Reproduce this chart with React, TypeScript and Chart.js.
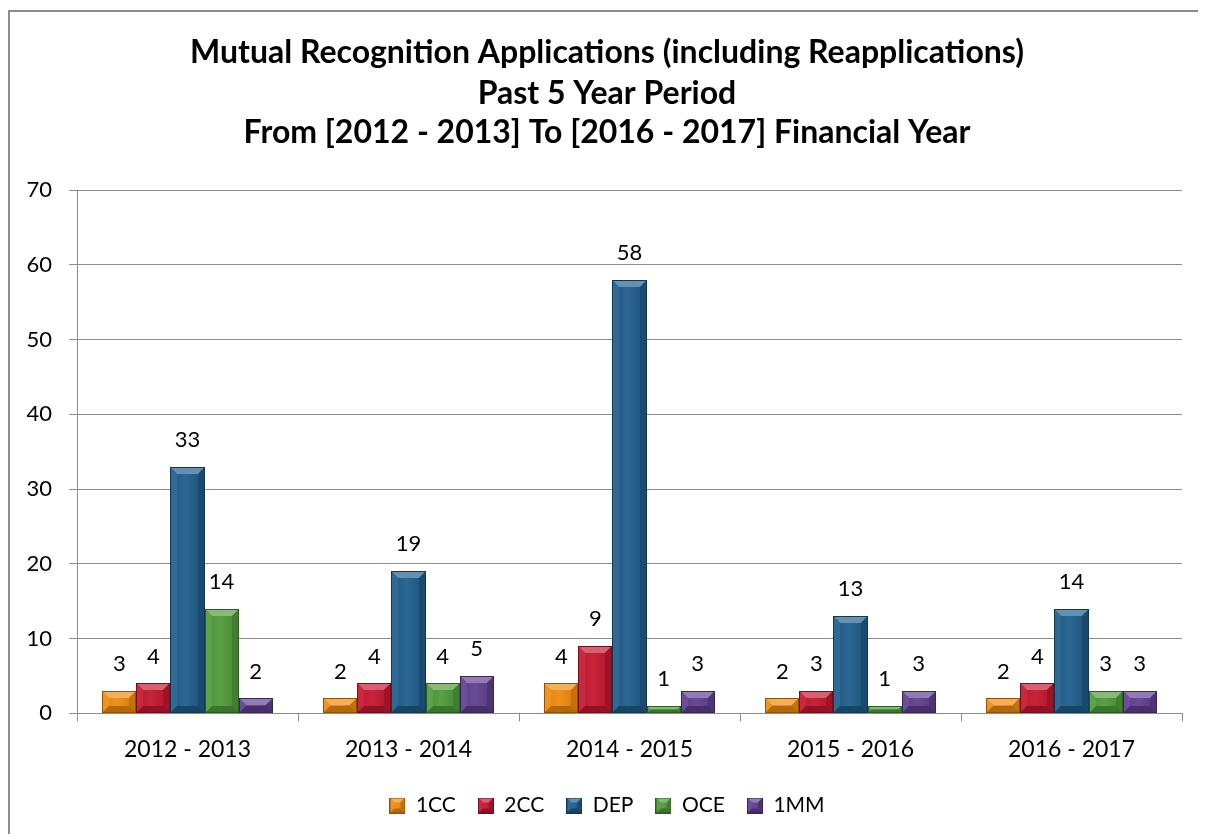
import React, { useEffect, useRef } from "react";
import { Chart, registerables } from "chart.js";

Chart.register(...registerables);

const categories = ["2012 - 2013", "2013 - 2014", "2014 - 2015", "2015 - 2016", "2016 - 2017"];
const seriesNames = ["1CC", "2CC", "DEP", "OCE", "1MM"];
const values1CC = [3, 2, 4, 2, 2];
const values2CC = [4, 4, 9, 3, 4];
const valuesDEP = [33, 19, 58, 13, 14];
const valuesOCE = [14, 4, 1, 1, 3];
const values1MM = [2, 5, 3, 3, 3];
const seriesColors = ["#EE8A0E", "#C2172F", "#1E5C8A", "#4E9A3A", "#5E3F8E"];
const yMin = 0;
const yMax = 70;
const yStep = 10;
const titleLines = [
  "Mutual Recognition Applications (including Reapplications)",
  "Past 5 Year Period",
  "From [2012 - 2013] To [2016 - 2017] Financial Year",
];

const FONT = "Lato, 'Open Sans', sans-serif";

function shade(hex: string, amt: number): string {
  const n = parseInt(hex.slice(1), 16);
  let r = (n >> 16) & 255, g = (n >> 8) & 255, b = n & 255;
  const t = amt > 0 ? 255 : 0;
  const p = Math.abs(amt);
  r = Math.round(r + (t - r) * p);
  g = Math.round(g + (t - g) * p);
  b = Math.round(b + (t - b) * p);
  return `rgb(${r},${g},${b})`;
}

function poly(ctx: CanvasRenderingContext2D, pts: number[][], fill: string) {
  ctx.beginPath();
  ctx.moveTo(pts[0][0], pts[0][1]);
  for (let i = 1; i < pts.length; i++) ctx.lineTo(pts[i][0], pts[i][1]);
  ctx.closePath();
  ctx.fillStyle = fill;
  ctx.fill();
}

function drawBevel(ctx: CanvasRenderingContext2D, l: number, t: number, r: number, b: number, color: string, bv: number) {
  const w = r - l, h = b - t;
  if (w <= 0 || h <= 0) return;
  const e = Math.min(bv, w / 2, h / 2);
  ctx.save();
  const g = ctx.createLinearGradient(l, 0, r, 0);
  g.addColorStop(0, shade(color, -0.05));
  g.addColorStop(0.45, shade(color, 0.06));
  g.addColorStop(1, shade(color, -0.12));
  ctx.fillStyle = g;
  ctx.fillRect(l, t, w, h);
  poly(ctx, [[l, t], [r, t], [r - e, t + e], [l + e, t + e]], shade(color, 0.32));
  poly(ctx, [[l, t], [l + e, t + e], [l + e, b - e], [l, b]], shade(color, 0.08));
  poly(ctx, [[r, t], [r, b], [r - e, b - e], [r - e, t + e]], shade(color, -0.18));
  poly(ctx, [[l, b], [l + e, b - e], [r - e, b - e], [r, b]], shade(color, -0.25));
  ctx.strokeStyle = shade(color, -0.4);
  ctx.lineWidth = 1;
  ctx.strokeRect(l + 0.5, t + 0.5, w - 1, h - 1);
  ctx.restore();
}

function makeLegendIcon(color: string): HTMLCanvasElement {
  const c = document.createElement("canvas");
  c.width = 16;
  c.height = 16;
  const ctx = c.getContext("2d")!;
  drawBevel(ctx, 0, 0, 16, 16, color, 5);
  return c;
}

const bevelPlugin = {
  id: "bevelBars",
  afterDatasetsDraw(chart: any) {
    const ctx = chart.ctx as CanvasRenderingContext2D;
    chart.data.datasets.forEach((ds: any, i: number) => {
      const meta = chart.getDatasetMeta(i);
      meta.data.forEach((bar: any) => {
        const p = bar.getProps(["x", "y", "base", "width"], true);
        const l = p.x - p.width / 2;
        const r = p.x + p.width / 2;
        drawBevel(ctx, Math.round(l), Math.round(p.y), Math.round(r), Math.round(p.base), seriesColors[i], 7);
      });
    });
  },
};

const labelsPlugin = {
  id: "valueLabels",
  afterDatasetsDraw(chart: any) {
    const ctx = chart.ctx as CanvasRenderingContext2D;
    ctx.save();
    ctx.font = `22px ${FONT}`;
    ctx.fillStyle = "#000";
    ctx.textAlign = "center";
    ctx.textBaseline = "middle";
    chart.data.datasets.forEach((ds: any, i: number) => {
      const meta = chart.getDatasetMeta(i);
      meta.data.forEach((bar: any, j: number) => {
        const p = bar.getProps(["x", "y"], true);
        ctx.fillText(String(ds.data[j]), p.x, p.y - 27);
      });
    });
    ctx.restore();
  },
};

const framePlugin = {
  id: "frame",
  beforeDraw(chart: any) {
    const ctx = chart.ctx as CanvasRenderingContext2D;
    ctx.save();
    ctx.fillStyle = "#fff";
    ctx.fillRect(0, 0, chart.width, chart.height);
    ctx.fillStyle = "#8c8c8c";
    ctx.fillRect(0, 2, 2, chart.height - 2);
    ctx.fillRect(0, 2, chart.width, 2);
    ctx.restore();
  },
};

const titlePlugin = {
  id: "customTitle",
  afterDraw(chart: any) {
    const ctx = chart.ctx as CanvasRenderingContext2D;
    ctx.save();
    ctx.font = `bold 32px ${FONT}`;
    ctx.fillStyle = "#000";
    ctx.textAlign = "center";
    ctx.textBaseline = "alphabetic";
    const baselines = [55, 96, 135];
    titleLines.forEach((line, i) => ctx.fillText(line, chart.width / 2, baselines[i]));
    ctx.restore();
  },
};

export default function App() {
  const ref = useRef<HTMLCanvasElement | null>(null);
  useEffect(() => {
    if (!ref.current) return;
    const allValues = [values1CC, values2CC, valuesDEP, valuesOCE, values1MM];
    const icons = seriesColors.map((c) => makeLegendIcon(c));
    const chart = new Chart(ref.current, {
      type: "bar",
      data: {
        labels: categories,
        datasets: seriesNames.map((name, i) => ({
          label: name,
          data: allValues[i],
          backgroundColor: "rgba(0,0,0,0)",
          borderWidth: 0,
          categoryPercentage: 0.77,
          barPercentage: 1.0,
          yAxisID: "y",
        })),
      },
      options: {
        animation: false,
        responsive: true,
        maintainAspectRatio: false,
        layout: { padding: { left: 0, right: 0, top: 182, bottom: 8 } },
        plugins: {
          title: { display: false },
          legend: {
            position: "bottom",
            labels: {
              usePointStyle: true,
              boxWidth: 16,
              boxHeight: 16,
              padding: 22,
              color: "#000",
              font: { family: FONT, size: 21 },
              generateLabels: () =>
                seriesNames.map((name, i) => ({
                  text: name,
                  fillStyle: seriesColors[i],
                  strokeStyle: seriesColors[i],
                  lineWidth: 0,
                  pointStyle: icons[i],
                  hidden: false,
                  datasetIndex: i,
                })),
            },
          },
          tooltip: { enabled: false },
        },
        scales: {
          x: {
            grid: { drawOnChartArea: false, drawTicks: true, tickLength: 8, color: "#8c8c8c", offset: true },
            border: { color: "#8c8c8c", width: 1 },
            ticks: { color: "#000", font: { family: FONT, size: 23 }, padding: 14 },
            afterFit: (scale: any) => {
              scale.height = scale.height - 4;
            },
          },
          y: {
            min: yMin,
            max: yMax,
            afterFit: (scale: any) => {
              scale.width = 69;
            },
            grid: { color: "#8c8c8c", tickLength: 8 },
            border: { color: "#8c8c8c", width: 1 },
            ticks: { stepSize: yStep, color: "#000", font: { family: FONT, size: 22 }, padding: 17 },
          },
          yRightSpace: {
            type: "linear",
            position: "right",
            display: true,
            grid: { display: false, drawTicks: false },
            border: { display: false },
            ticks: { display: false },
            afterFit: (scale: any) => {
              scale.width = 24;
            },
          },
        },
      },
      plugins: [framePlugin, bevelPlugin, labelsPlugin, titlePlugin],
    });
    return () => chart.destroy();
  }, []);
  return (
    <div style={{ width: 1198, height: 826, position: "relative" }}>
      <canvas ref={ref} />
    </div>
  );
}
